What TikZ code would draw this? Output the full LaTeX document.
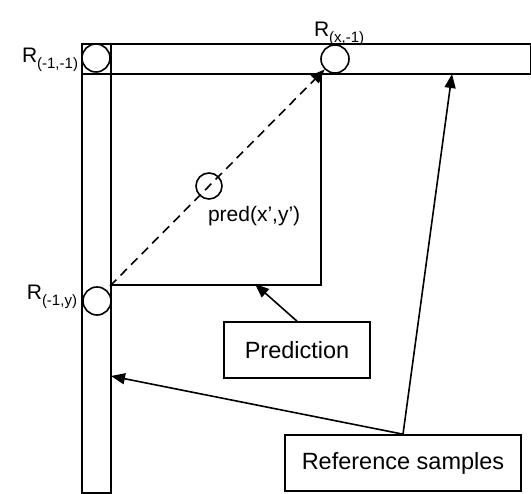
\documentclass[tikz,border=0pt]{standalone}
\usepackage{fontspec}
\setmainfont{Liberation Sans}
\usetikzlibrary{arrows.meta}
% reference sample name with lowered index
\newcommand{\refsmp}[1]{R\raisebox{-6pt}{\fontsize{15}{15}\selectfont #1}}

\begin{document}
\begin{tikzpicture}[x=1pt, y=-1pt, line width=2pt,
    every node/.style={font=\fontsize{21}{25}\selectfont},
    bar/.style={draw, rectangle, inner sep=0pt, anchor=north west},
    smp/.style={draw, circle, minimum size=28pt, inner sep=0pt, line width=1.6pt},
    lbl/.style={draw, rectangle, inner sep=0pt, line width=1.6pt, minimum height=56pt,
        font=\fontsize{23.5}{27}\selectfont},
    tip/.style={-{Triangle[length=14pt,width=11pt]}, line width=1.6pt}]
    \useasboundingbox (0,0) rectangle (531,494);
    % top row and left column of reference samples
    \node[bar, minimum width=449pt, minimum height=30pt] (toprow) at (81,43) {};
    \node[bar, minimum width=29pt, minimum height=449pt] (leftcol) at (81,43) {};
    \node[bar, minimum width=210pt, minimum height=211pt] (block) at (110,73) {};
    % samples
    \node[smp] (rmm) at (96,58) {};
    \node[smp] (rxm) at (335,59) {};
    \node[smp] (rmy) at (97,301) {};
    \node[smp, minimum size=26pt] (pxy) at (209,186) {};
    \node[anchor=base east, inner sep=0pt] (rmmlbl) at (79,63) {\refsmp{(-1,-1)}};
    \node[anchor=base west, inner sep=0pt] (rxmlbl) at (313,37) {\refsmp{(x,-1)}};
    \node[anchor=base east, inner sep=0pt] (rmylbl) at (78,300) {\refsmp{(-1,y)}};
    \node[anchor=base west, inner sep=0pt] (pxylbl) at (207,222) {pred(x’,y’)};
    % captions
    \node[lbl, minimum width=146pt] (predbox) at (297,350) {Prediction};
    \node[lbl, minimum width=236pt] (refbox) at (403,463) {Reference samples};
    \coordinate (corner) at (block.south west);
    \coordinate (onblock) at (255,284);
    \coordinate (onrow) at (452,74);
    \coordinate (oncol) at (111,376);
    \draw[tip, dash pattern=on 9pt off 6pt] (corner) -- (rxm);
    \draw[tip] (predbox.north) -- (onblock);
    \draw[tip] (refbox.north) -- (onrow);
    \draw[tip] (refbox.north) -- (oncol);
\end{tikzpicture}
\end{document}
